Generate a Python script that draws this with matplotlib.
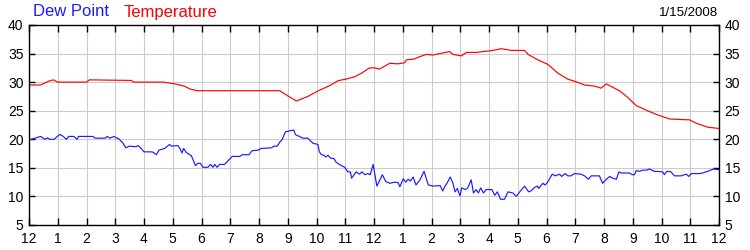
import matplotlib
matplotlib.use('Agg')
import matplotlib.pyplot as plt

plt.rcParams['font.family'] = ['Liberation Sans', 'DejaVu Sans']

# hours after midnight, 1/15/2008
temp_hours = [0, 0.4, 0.7, 0.85, 1.0, 2.0, 2.1, 3.55, 3.65, 4.66, 5.07, 5.4, 5.6, 5.85,
              6.0, 8.72, 9.0, 9.3, 9.7, 10.05, 10.46, 10.75, 11.04, 11.33, 11.56, 11.85,
              12.0, 12.2, 12.55, 12.83, 13.07, 13.13, 13.4, 13.59, 13.82, 14.05, 14.34,
              14.63, 14.75, 15.04, 15.21, 15.56, 15.79, 16.08, 16.43, 16.78, 17.24, 17.36,
              17.7, 18.05, 18.4, 18.75, 18.98, 19.33, 19.68, 19.9, 20.08, 20.55, 20.83,
              21.12, 21.47, 21.82, 22.28, 22.98, 23.21, 23.62, 24.0]
temp_values = [29.5, 29.5, 30.2, 30.4, 30.0, 30.0, 30.4, 30.3, 30.0, 30.0, 29.7, 29.3, 28.8,
               28.5, 28.5, 28.5, 27.6, 26.7, 27.5, 28.45, 29.4, 30.25, 30.55, 30.95, 31.55,
               32.5, 32.5, 32.3, 33.3, 33.2, 33.4, 33.9, 34.05, 34.45, 34.85, 34.75, 35.05,
               35.35, 34.85, 34.6, 35.2, 35.2, 35.35, 35.5, 35.85, 35.55, 35.55, 34.85,
               33.9, 33.1, 31.55, 30.5, 30.15, 29.5, 29.3, 28.95, 29.7, 28.45, 27.3, 25.9,
               25.1, 24.35, 23.55, 23.4, 22.8, 22.1, 21.9]

dew_hours = [0, 0.08, 0.41, 0.55, 0.64, 0.72, 0.87, 1.07, 1.18, 1.3, 1.38, 1.56, 1.67, 1.72,
             2.22, 2.3, 2.65, 2.72, 2.81, 2.95, 3.04, 3.12, 3.26, 3.37, 3.49, 3.72, 3.8, 3.9,
             4.0, 4.27, 4.31, 4.43, 4.52, 4.72, 4.89, 4.95, 5.18, 5.26, 5.32, 5.38, 5.47,
             5.65, 5.79, 5.88, 5.96, 6.05, 6.22, 6.32, 6.4, 6.46, 6.54, 6.63, 6.8, 7.07,
             7.33, 7.42, 7.65, 7.76, 7.97, 8.08, 8.43, 8.52, 8.64, 8.72, 8.8, 8.92, 9.07,
             9.21, 9.27, 9.36, 9.53, 9.7, 9.88, 10.05, 10.1, 10.17, 10.26, 10.32, 10.4,
             10.49, 10.61, 10.69, 10.86, 10.98, 11.09, 11.18, 11.22, 11.38, 11.5, 11.58,
             11.68, 11.79, 11.87, 11.97, 12.1, 12.29, 12.41, 12.55, 12.72, 12.84, 12.9,
             13.02, 13.1, 13.19, 13.27, 13.36, 13.46, 13.6, 13.74, 13.89, 14.06, 14.3,
             14.39, 14.47, 14.55, 14.65, 14.74, 14.82, 14.9, 14.99, 15.05, 15.17, 15.26,
             15.38, 15.46, 15.55, 15.63, 15.71, 15.81, 15.9, 16.1, 16.2, 16.29, 16.4,
             16.54, 16.66, 16.83, 16.95, 17.1, 17.24, 17.38, 17.47, 17.59, 17.68, 17.73,
             17.87, 17.95, 18.04, 18.2, 18.31, 18.45, 18.53, 18.65, 18.74, 18.85, 18.97,
             19.2, 19.32, 19.46, 19.55, 19.66, 19.84, 19.95, 20.08, 20.2, 20.29, 20.43,
             20.52, 20.6, 20.89, 20.98, 21.06, 21.12, 21.24, 21.35, 21.47, 21.58, 21.75,
             22.04, 22.1, 22.19, 22.33, 22.45, 22.68, 22.86, 22.95, 23.03, 23.32, 23.43,
             23.61, 23.81, 23.96, 24.0]
dew_values = [19.9, 20.0, 20.5, 20.0, 20.25, 20.0, 20.0, 20.85, 20.55, 20.0, 20.5, 20.5, 20.0,
              20.5, 20.5, 20.2, 20.2, 20.5, 20.2, 20.5, 20.25, 20.1, 19.4, 18.5, 18.8, 18.7,
              18.9, 18.4, 17.8, 17.8, 17.75, 17.3, 18.1, 18.4, 19.1, 18.8, 18.9, 18.3, 17.6,
              18.4, 17.7, 17.1, 15.4, 15.8, 15.8, 15.1, 15.1, 15.6, 15.1, 15.6, 15.1, 15.6,
              15.6, 17.0, 17.0, 17.3, 17.3, 18.0, 18.1, 18.4, 18.5, 18.8, 18.8, 19.5, 19.9,
              21.3, 21.5, 21.6, 20.8, 20.6, 20.2, 20.2, 19.3, 19.1, 17.8, 17.3, 17.2, 16.9,
              17.2, 16.7, 16.6, 15.95, 15.4, 15.1, 14.3, 14.3, 13.2, 14.3, 13.9, 14.3, 13.8,
              14.0, 13.8, 15.6, 11.8, 13.8, 12.6, 12.3, 12.5, 12.4, 11.7, 13.1, 12.5, 13.0,
              12.7, 13.4, 12.0, 12.9, 14.4, 12.0, 11.8, 11.9, 10.95, 11.8, 12.4, 13.4, 12.4,
              10.8, 11.4, 10.1, 11.5, 11.2, 11.5, 12.9, 10.6, 11.2, 10.6, 11.5, 10.6, 11.2,
              11.2, 10.2, 10.8, 9.5, 9.5, 10.8, 10.6, 10.0, 11.0, 11.8, 10.8, 11.0, 11.6,
              11.8, 11.4, 12.3, 12.0, 12.5, 13.9, 13.6, 13.9, 13.5, 14.0, 13.6, 13.6, 14.0,
              13.9, 13.6, 13.0, 13.6, 13.6, 13.6, 12.3, 13.0, 13.5, 13.2, 13.0, 14.3, 14.1,
              14.1, 13.8, 13.8, 14.5, 14.4, 14.6, 14.6, 14.8, 14.4, 14.3, 13.8, 14.4, 14.3,
              13.6, 13.6, 13.9, 13.5, 14.0, 14.0, 14.1, 14.4, 14.8, 14.7, 14.7]

hour_labels = ['12'] + [str(i) for i in range(1, 12)] + ['12'] + [str(i) for i in range(1, 12)] + ['12']
y_ticks = [5, 10, 15, 20, 25, 30, 35, 40]
date_label = '1/15/2008'

fig = plt.figure(figsize=(7.5, 2.5), dpi=100)
ax = fig.add_axes([29 / 750, 25 / 250, 690 / 750, 200 / 250])

ax.plot(temp_hours, temp_values, color='#ff0000', lw=0.85)
ax.plot(dew_hours, dew_values, color='#1a1aff', lw=0.85)

ax.set_xlim(0, 24)
ax.set_ylim(5, 40)
ax.set_xticks(range(25))
ax.set_xticklabels(hour_labels)
ax.set_yticks(y_ticks)
ax.grid(True, color='#cccccc', lw=0.8)
ax.set_axisbelow(True)
for s in ax.spines.values():
    s.set_linewidth(1.0)
    s.set_color('black')

ax.tick_params(axis='x', direction='in', length=5, width=1, top=True, labelsize=10, pad=5)
ax.tick_params(axis='y', direction='in', length=4, width=1, right=True, labelright=True,
               labelsize=10, pad=4)

fig.text(33 / 750, 1 - 12 / 250, 'Dew Point', color='#1a1aff', fontsize=12, va='center', ha='left')
fig.text(124 / 750, 1 - 12 / 250, 'Temperature', color='#ff0000', fontsize=12, va='center', ha='left')
fig.text(718 / 750, 1 - 13 / 250, date_label, color='black', fontsize=9.5, va='center', ha='right')

fig.savefig('out.png', dpi=100)
